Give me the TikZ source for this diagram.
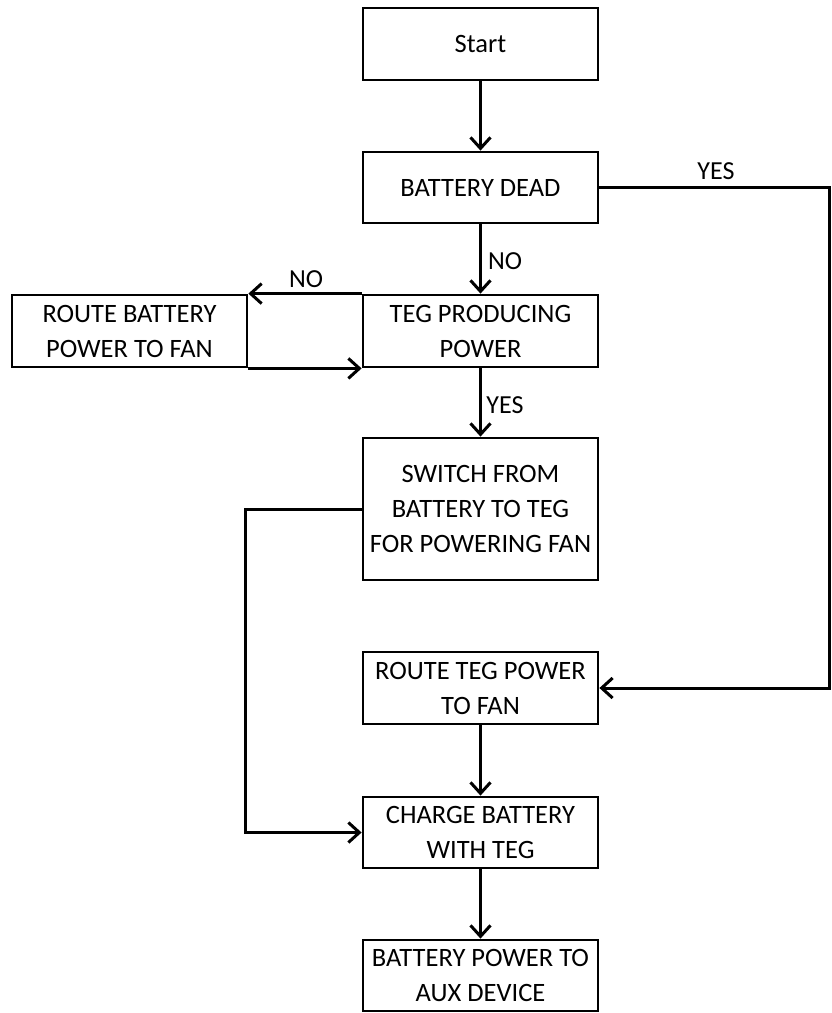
\documentclass[tikz,border=0pt]{standalone}
\usepackage{fontspec}
\setmainfont{Carlito}
\usetikzlibrary{arrows.meta}
\begin{document}
\begin{tikzpicture}[x=1pt,y=-1pt,
  box/.style={draw=black,line width=2.8pt,minimum width=235pt,inner sep=0pt,
    text width=234pt,align=flush center,font=\fontsize{26.5}{35}\selectfont},
  conn/.style={line width=3pt,line join=miter},
  arr/.style={conn,-{Straight Barb[length=11pt,width=20pt,line width=3pt]}},
  lbl/.style={font=\fontsize{26}{30}\selectfont,inner sep=0pt}]
\useasboundingbox (0,0) rectangle (831,1013);
\node[box,minimum height=72pt] (start) at (480.5,44) {Start};
\node[box,minimum height=71pt] (bd) at (480.5,187.5) {BATTERY DEAD};
\node[box,minimum height=72pt] (teg) at (480.5,331) {TEG PRODUCING\\POWER};
\node[box,minimum height=72pt] (rb) at (129.5,331) {ROUTE BATTERY\\POWER TO FAN};
\node[box,minimum height=142pt] (sw) at (480.5,509) {SWITCH FROM\\BATTERY TO TEG\\FOR POWERING FAN};
\node[box,minimum height=72pt] (rt) at (480.5,688) {ROUTE TEG POWER\\TO FAN};
\node[box,minimum height=71pt] (ch) at (480.5,832.5) {CHARGE BATTERY\\WITH TEG};
\node[box,minimum height=71pt] (aux) at (480.5,975.5) {BATTERY POWER TO\\AUX DEVICE};
\coordinate (yr) at (829,187.5);
\coordinate (sl) at (245,509);
\draw[arr] (start) -- (bd);
\draw[arr] (bd) -- (teg);
\draw[arr] (bd.east) -- (yr) |- (rt.east);
\draw[arr] (teg.north west) -- (rb.north east);
\draw[arr] (rb.south east) -- (teg.south west);
\draw[arr] (teg) -- (sw);
\draw[arr] (sw.west) -- (sl) |- (ch.west);
\draw[arr] (rt) -- (ch);
\draw[arr] (ch) -- (aux);
\node[lbl] (l1) at (716,171) {YES};
\node[lbl] (l2) at (505,261) {NO};
\node[lbl] (l3) at (306,279) {NO};
\node[lbl] (l4) at (505,405) {YES};
\end{tikzpicture}
\end{document}
